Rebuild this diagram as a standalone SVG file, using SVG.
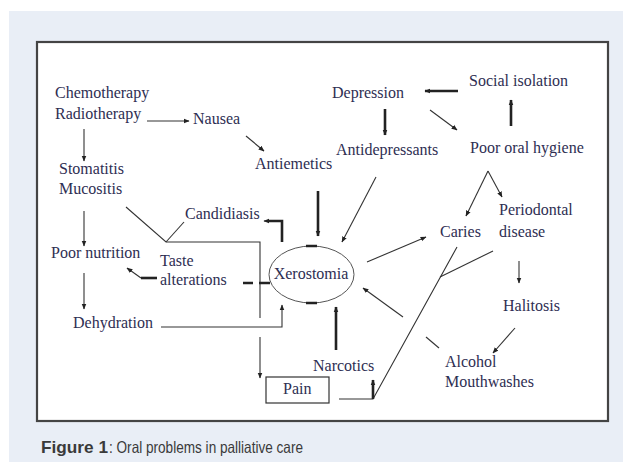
<svg xmlns="http://www.w3.org/2000/svg" width="623" height="462" viewBox="0 0 623 462">
<style>
.t{font-family:"Liberation Serif","Times New Roman",serif;font-size:16px;fill:#2e2e52}
.c{fill:none;stroke:#333;stroke-width:1.1}
.k{fill:none;stroke:#222;stroke-width:2.6}
.cap{font-family:"Liberation Sans",Arial,sans-serif;font-size:16.5px;fill:#3a3a3a}
</style>
<defs>
<marker id="a" viewBox="0 0 10 10" refX="9" refY="5" markerWidth="6" markerHeight="6" markerUnits="userSpaceOnUse" orient="auto">
<path d="M0,1 L10,5 L0,9 z" fill="#222"/>
</marker>
</defs>
<rect x="9" y="11" width="614" height="451" fill="#e9eef6"/>
<rect x="37" y="42" width="571" height="379" fill="#fff" stroke="#444" stroke-width="2.2"/>
<g id="connectors">
<path class="c" d="M147,121 H189" marker-end="url(#a)"/>
<path class="c" d="M246,136 L264,151" marker-end="url(#a)"/>
<path class="c" d="M84,129 V161" marker-end="url(#a)"/>
<path class="c" d="M84,211 V246" marker-end="url(#a)"/>
<path class="c" d="M84,273 V309" marker-end="url(#a)"/>
<path class="c" d="M126,207 L166,242 H260 V318"/>
<path class="c" d="M260,337 V378" marker-end="url(#a)"/>
<path class="c" d="M166,242 L184,222"/>
<path class="k" d="M282,242 V221 H268"/>
<path class="c" d="M269,221 H264" marker-end="url(#a)"/>
<path class="k" d="M270,283 H259 M253,283 H243"/>
<path class="k" d="M157,278 H141"/>
<path class="c" d="M141,278 L127,268" marker-end="url(#a)"/>
<path class="c" d="M161,327 H282 V305" marker-end="url(#a)"/>
<path class="k" d="M318,191 V236" marker-end="url(#a)"/>
<path class="k" d="M336,350 V307" marker-end="url(#a)"/>
<path class="c" d="M376,177 L342,242" marker-end="url(#a)"/>
<path class="k" d="M385,109 V135" marker-end="url(#a)"/>
<path class="c" d="M430,110 L457,130" marker-end="url(#a)"/>
<path class="k" d="M458,91 H425" marker-end="url(#a)"/>
<path class="k" d="M511,126 V100" marker-end="url(#a)"/>
<path class="c" d="M488,171 L466,216" marker-end="url(#a)"/>
<path class="c" d="M488,171 L502,197" marker-end="url(#a)"/>
<path class="c" d="M367,262 L426,237" marker-end="url(#a)"/>
<path class="c" d="M519,261 V283" marker-end="url(#a)"/>
<path class="c" d="M515,328 L493,353" marker-end="url(#a)"/>
<path class="c" d="M439,348 L426,337"/>
<path class="c" d="M403,317 L363,288" marker-end="url(#a)"/>
<path class="c" d="M339,399 H373 L457,247"/>
<path class="k" d="M373,399 V380" marker-end="url(#a)"/>
<path class="c" d="M493,251 L440,277"/>
</g>
<g id="chemo"><text class="t" x="55" y="98">Chemotherapy</text><text class="t" x="55" y="119">Radiotherapy</text></g>
<g id="nausea"><text class="t" x="193" y="124">Nausea</text></g>
<g id="antiemetics"><text class="t" x="255" y="169">Antiemetics</text></g>
<g id="stomatitis"><text class="t" x="59" y="174">Stomatitis</text><text class="t" x="59" y="194">Mucositis</text></g>
<g id="poornutrition"><text class="t" x="51" y="258">Poor nutrition</text></g>
<g id="candidiasis"><text class="t" x="185" y="219">Candidiasis</text></g>
<g id="taste"><text class="t" x="160" y="266">Taste</text><text class="t" x="160" y="285">alterations</text></g>
<g id="xerostomia">
<ellipse cx="311.5" cy="274.5" rx="42.5" ry="28.5" fill="none" stroke="#555" stroke-width="1"/>
<path d="M306,246 H317 M306,303 H317" stroke="#222" stroke-width="2.6"/>
<text class="t" x="311" y="279" text-anchor="middle">Xerostomia</text>
</g>
<g id="dehydration"><text class="t" x="73" y="328">Dehydration</text></g>
<g id="narcotics"><text class="t" x="313" y="371">Narcotics</text></g>
<g id="pain"><rect x="266" y="377" width="63" height="26" fill="#fff" stroke="#333" stroke-width="1.2"/><text class="t" x="283" y="394">Pain</text></g>
<g id="depression"><text class="t" x="332" y="98">Depression</text></g>
<g id="social"><text class="t" x="469" y="86">Social isolation</text></g>
<g id="antidepressants"><text class="t" x="336" y="155">Antidepressants</text></g>
<g id="hygiene"><text class="t" x="470" y="153">Poor oral hygiene</text></g>
<g id="caries"><text class="t" x="440" y="237">Caries</text></g>
<g id="periodontal"><text class="t" x="499" y="215">Periodontal</text><text class="t" x="499" y="237">disease</text></g>
<g id="halitosis"><text class="t" x="503" y="311">Halitosis</text></g>
<g id="alcohol"><text class="t" x="445" y="367">Alcohol</text><text class="t" x="445" y="387">Mouthwashes</text></g>
<text class="cap" x="41" y="453" font-weight="bold" fill="#333" textLength="67" lengthAdjust="spacingAndGlyphs">Figure 1</text>
<text class="cap" x="109" y="453" textLength="194" lengthAdjust="spacingAndGlyphs">: Oral problems in palliative care</text>
</svg>
